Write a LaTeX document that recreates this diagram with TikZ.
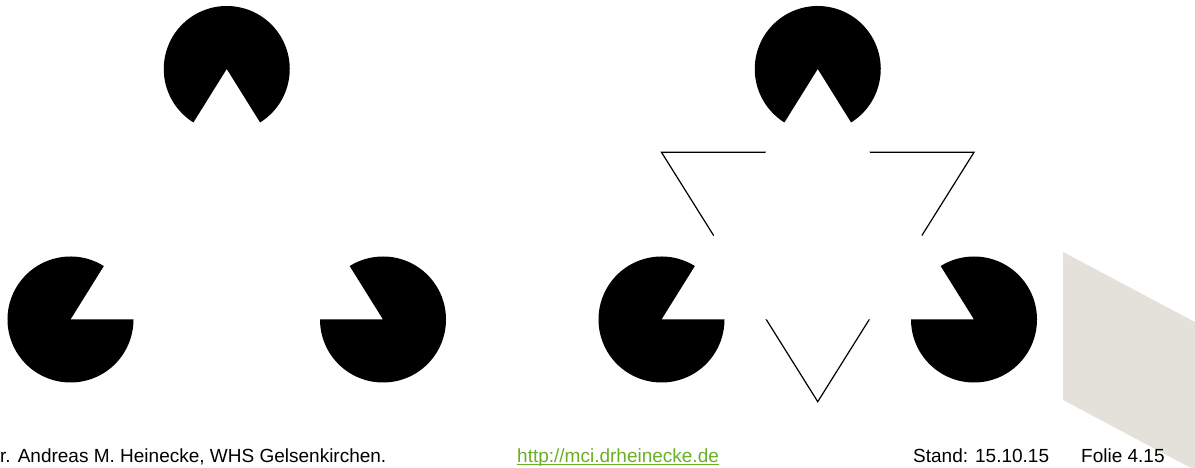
\documentclass[tikz,border=0pt]{standalone}
\usepackage{fontspec}
\setmainfont{Liberation Sans}
\usepackage{tikz}

\definecolor{linkgreen}{RGB}{106,176,35}
\definecolor{slidegray}{RGB}{228,225,218}

% pacman: centre, start angle, end angle
\newcommand{\pacman}[3]{%
  \fill (#1) -- ++(#2:63) arc[start angle=#2, end angle=#3, radius=63] -- cycle;}

\begin{document}
\begin{tikzpicture}[x=1pt, y=1pt,
    foot/.style={anchor=base west, inner sep=0pt, font=\fontsize{19}{23}\selectfont},
    contour/.style={line width=1.2pt, line join=miter}]
    \useasboundingbox (0,0) rectangle (1195,468);

    % slide decoration
    \fill[slidegray] (1063,216) -- (1195,146) -- (1195,0) -- (1191,0) -- (1063,68) -- cycle;

    % left figure
    \coordinate (a1) at (226.75,399);
    \coordinate (a2) at (70.5,148.5);
    \coordinate (a3) at (383,148.5);
    \pacman{a1}{-58.05}{238.05}
    \pacman{a2}{58.05}{360}
    \pacman{a3}{180}{481.95}

    % right figure
    \coordinate (b1) at (817.75,399);
    \coordinate (b2) at (661.5,148.5);
    \coordinate (b3) at (974,148.5);
    \coordinate (t1) at (661.5,315.7);
    \coordinate (t2) at (974,315.7);
    \coordinate (t3) at (817.75,66.3);

    \draw[contour] (t1) -- (t2) -- (t3) -- cycle;
    \fill[white] (b1) -- (b2) -- (b3) -- cycle;
    \pacman{b1}{-58.05}{238.05}
    \pacman{b2}{58.05}{360}
    \pacman{b3}{180}{481.95}

    % footer
    \node[foot] (author) at (0,5) {r. Andreas M. Heinecke, WHS Gelsenkirchen.};
    \node[foot, text=linkgreen] (url) at (517,5) {http://mci.drheinecke.de};
    \draw[linkgreen, line width=1pt] ([yshift=-2pt]url.base west) -- ([yshift=-2pt]url.base east);
    \node[foot] (stand) at (913,5) {Stand: 15.10.15};
    \node[foot] (folie) at (1081,5) {Folie 4.15};
\end{tikzpicture}
\end{document}
